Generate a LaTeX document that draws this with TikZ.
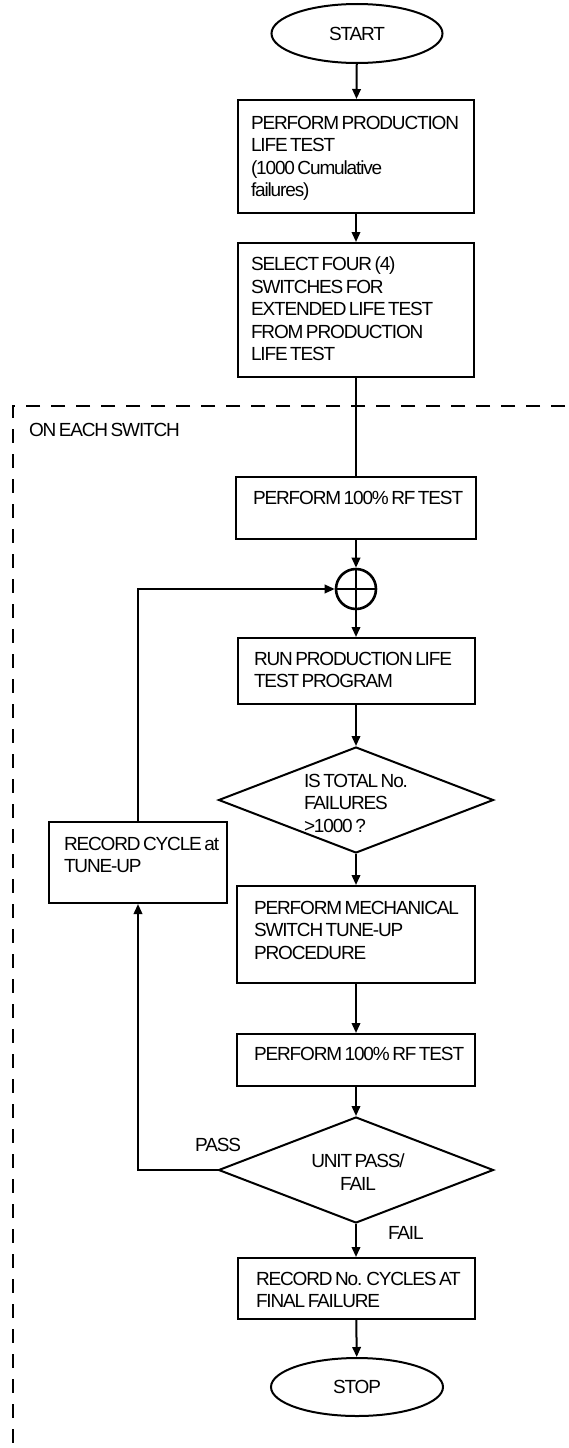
\documentclass[tikz,border=0pt]{standalone}
\usepackage{fontspec}
\setmainfont[LetterSpace=-6,WordSpace=0.6]{Liberation Sans}
\usetikzlibrary{arrows.meta,shapes.geometric}
\begin{document}
\begin{tikzpicture}[x=1pt,y=-1pt,
  line width=2pt,
  fnt/.style={font=\fontsize{19}{22.5}\selectfont},
  box/.style={draw, rectangle, line width=2pt, inner sep=0pt},
  term/.style={draw, ellipse, line width=2pt, inner sep=0pt, fnt},
  dec/.style={draw, diamond, line width=2pt, inner sep=0pt, minimum width=275pt, minimum height=106pt},
  txt/.style={anchor=north west, inner sep=0pt, align=left, fnt},
  lbl/.style={inner sep=0pt, fnt},
  arr/.style={-{Triangle[length=10pt,width=8.5pt]}, line width=2pt},
  ln/.style={line width=2pt},
  frame/.style={dash pattern=on 14pt off 11pt, line width=2pt}
]
\useasboundingbox (0,0) rectangle (569,1448);

% dashed frame (clipped by picture edges)
\begin{scope}
\clip (0,0) rectangle (569,1448);
\draw[frame] (590,406) -- (13,406) -- (13,1470);
\end{scope}
\node[lbl, anchor=west] (onEach) at (28,430) {ON EACH SWITCH};

% terminals
\node[term, minimum width=171pt, minimum height=59pt] (start) at (357,33.5) {START};
\node[term, minimum width=172pt, minimum height=58pt] (stop) at (357,1387) {STOP};

% boxes
\node[box, minimum width=236pt, minimum height=113pt] (b1) at (356,156.5) {};
\node[box, minimum width=236pt, minimum height=134pt] (b2) at (356,310) {};
\node[box, minimum width=240pt, minimum height=62pt] (rf1) at (356,508) {};
\node[box, minimum width=237pt, minimum height=66pt] (run) at (356,671) {};
\node[box, minimum width=238pt, minimum height=97pt] (mech) at (356,934.5) {};
\node[box, minimum width=238pt, minimum height=52pt] (rf2) at (356,1060) {};
\node[box, minimum width=237pt, minimum height=61pt] (rec) at (356,1288.5) {};
\node[box, minimum width=178pt, minimum height=81pt] (rcyc) at (138,862.5) {};

% decisions
\node[dec] (d1) at (356,800) {};
\node[dec] (d2) at (356,1170) {};

% summing junction
\node[draw, circle, line width=2.6pt, minimum size=40pt, inner sep=0pt] (sum) at (356,589) {};
\draw[line width=2.2pt] (sum.north) -- (sum.south);
\draw[line width=2.2pt] (sum.west) -- (sum.east);

% texts
\node[txt] (t1) at (250,115) {PERFORM PRODUCTION\\LIFE TEST\\(1000 Cumulative\\failures)};
\node[txt] (t2) at (250,256) {SELECT FOUR (4)\\SWITCHES FOR\\EXTENDED LIFE TEST\\FROM PRODUCTION\\LIFE TEST};
\node[txt] (t3) at (252,490) {PERFORM 100\% RF TEST};
\node[txt] (t4) at (253,651) {RUN PRODUCTION LIFE\\TEST PROGRAM};
\node[txt] (t5) at (303,773) {IS TOTAL No.\\FAILURES\\>1000 ?};
\node[txt] (t6) at (63,836) {RECORD CYCLE at\\TUNE-UP};
\node[txt] (t7) at (253,900) {PERFORM MECHANICAL\\SWITCH TUNE-UP\\PROCEDURE};
\node[txt] (t8) at (253,1046) {PERFORM 100\% RF TEST};
\node[lbl, align=center, anchor=north] (t9) at (358,1153) {UNIT PASS/\\FAIL};
\node[txt] (t10) at (255,1271) {RECORD No. CYCLES AT\\FINAL FAILURE};
\node[lbl, anchor=east] (pass) at (242,1145) {PASS};
\node[lbl, anchor=west] (fail) at (387,1233) {FAIL};

% connectors
\draw[arr] (start) -- (b1);
\draw[arr] (b1) -- (b2);
\draw[ln] (b2) -- (rf1);
\draw[arr] (rf1) -- (sum);
\draw[arr] (sum) -- (run);
\draw[arr] (run) -- (d1);
\draw[arr] (d1) -- (mech);
\draw[arr] (mech) -- (rf2);
\draw[arr] (rf2) -- (d2);
\draw[arr] (d2) -- (rec);
\draw[arr] (rec) -- (stop);
\draw[arr] (d2.west) -| (rcyc.south);
\draw[arr] (rcyc.north) |- (sum.west);
\end{tikzpicture}
\end{document}
